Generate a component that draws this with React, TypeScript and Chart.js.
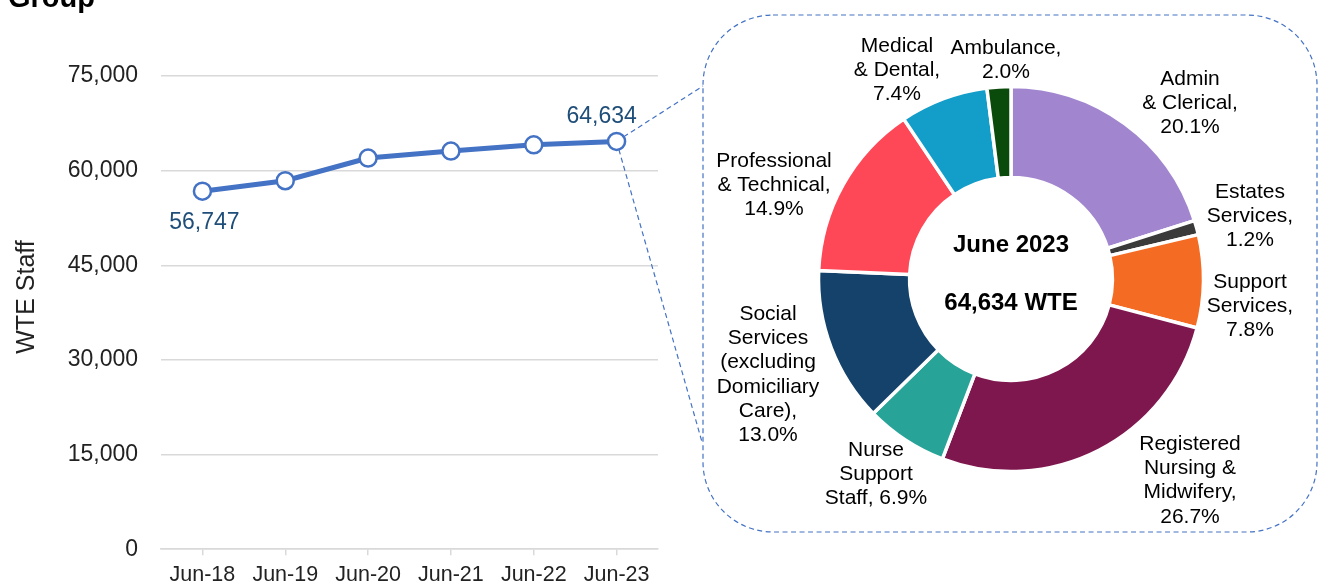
import React, { useEffect, useRef } from 'react';
import { Chart, registerables } from 'chart.js';

Chart.register(...registerables);

// ---------- data ----------
const years = ['Jun-18', 'Jun-19', 'Jun-20', 'Jun-21', 'Jun-22', 'Jun-23'];
const staffWTE = [56747, 58400, 62000, 63100, 64100, 64634];
const yTickValues = [0, 15000, 30000, 45000, 60000, 75000];

const staffGroups = [
  'Admin & Clerical',
  'Estates Services',
  'Support Services',
  'Registered Nursing & Midwifery',
  'Nurse Support Staff',
  'Social Services (excluding Domiciliary Care)',
  'Professional & Technical',
  'Medical & Dental',
  'Ambulance',
];
const groupShares = [20.1, 1.2, 7.8, 26.7, 6.9, 13.0, 14.9, 7.4, 2.0];
const groupLabelLines = [
  ['Admin', '& Clerical,', '{p}'],
  ['Estates', 'Services,', '{p}'],
  ['Support', 'Services,', '{p}'],
  ['Registered', 'Nursing &', 'Midwifery,', '{p}'],
  ['Nurse', 'Support', 'Staff, {p}'],
  ['Social', 'Services', '(excluding', 'Domiciliary', 'Care),', '{p}'],
  ['Professional', '& Technical,', '{p}'],
  ['Medical', '& Dental,', '{p}'],
  ['Ambulance,', '{p}'],
];
const centerTitle = 'June 2023';
const pageTitle = 'Group';
const yAxisTitle = 'WTE Staff';

// ---------- styles / layout ----------
const FONT = '"Liberation Sans", Arial, Helvetica, sans-serif';
const groupColors = [
  '#A186CF', '#3A3A3A', '#F46B24', '#7F174F', '#27A397',
  '#14426A', '#FF4857', '#139DC9', '#0A4A0A',
];
// anchor (page px) of first line centre for each doughnut label
const labelAnchors = [
  [1190, 79], [1250, 192], [1250, 282], [1190, 444], [876, 450],
  [768, 314], [774, 161], [897, 46], [1006, 48],
];
const LABEL_LH = 24.3;
const W = 1325;
const H = 586;
const BOX = { x: 703, y: 15, w: 614, h: 517, r: 70 };
const CONNECT_TOP = [703, 86];
const CONNECT_BOTTOM = [702, 442];
const DONUT_C = [1011, 279];

const fmt = (v: number) => v.toLocaleString('en-GB');

export default function App() {
  const lineRef = useRef<HTMLCanvasElement | null>(null);
  const donutRef = useRef<HTMLCanvasElement | null>(null);

  useEffect(() => {
    const lineDecor = {
      id: 'lineDecor',
      beforeDatasetsDraw(chart: any) {
        const ctx = chart.ctx;
        const meta = chart.getDatasetMeta(0);
        const last = meta.data[meta.data.length - 1];
        ctx.save();
        ctx.strokeStyle = '#4472C4';
        ctx.lineWidth = 1.2;
        ctx.setLineDash([5, 3.5]);
        const { x, y, w, h, r } = BOX;
        ctx.beginPath();
        ctx.moveTo(x + r, y);
        ctx.lineTo(x + w - r, y);
        ctx.arcTo(x + w, y, x + w, y + r, r);
        ctx.lineTo(x + w, y + h - r);
        ctx.arcTo(x + w, y + h, x + w - r, y + h, r);
        ctx.lineTo(x + r, y + h);
        ctx.arcTo(x, y + h, x, y + h - r, r);
        ctx.lineTo(x, y + r);
        ctx.arcTo(x, y, x + r, y, r);
        ctx.closePath();
        ctx.stroke();
        ctx.beginPath();
        ctx.moveTo(last.x, last.y);
        ctx.lineTo(CONNECT_TOP[0], CONNECT_TOP[1]);
        ctx.moveTo(last.x, last.y);
        ctx.lineTo(CONNECT_BOTTOM[0], CONNECT_BOTTOM[1]);
        ctx.stroke();
        ctx.restore();
      },
      afterDraw(chart: any) {
        const ctx = chart.ctx;
        const meta = chart.getDatasetMeta(0);
        const first = meta.data[0];
        const last = meta.data[meta.data.length - 1];
        ctx.save();
        ctx.fillStyle = '#1F4E79';
        ctx.font = `23px ${FONT}`;
        ctx.textAlign = 'center';
        ctx.textBaseline = 'middle';
        ctx.fillText(fmt(staffWTE[0]), first.x + 2, first.y + 31);
        ctx.fillText(fmt(staffWTE[staffWTE.length - 1]), last.x - 15, last.y - 25);
        ctx.fillStyle = '#222';
        ctx.font = `25px ${FONT}`;
        ctx.translate(27, 297);
        ctx.rotate(-Math.PI / 2);
        ctx.fillText(yAxisTitle, 0, 0);
        ctx.restore();
        ctx.save();
        ctx.fillStyle = '#000';
        ctx.font = `bold 29px ${FONT}`;
        ctx.textAlign = 'left';
        ctx.textBaseline = 'alphabetic';
        ctx.fillText(pageTitle, 8, 7);
        ctx.restore();
      },
    };

    const lineChart = new Chart(lineRef.current as HTMLCanvasElement, {
      type: 'line',
      data: {
        labels: years,
        datasets: [
          {
            data: staffWTE,
            borderColor: '#4472C4',
            borderWidth: 5,
            pointRadius: 8.5,
            pointBorderWidth: 2.5,
            pointBackgroundColor: '#FFFFFF',
            pointBorderColor: '#4472C4',
            tension: 0,
          },
        ],
      },
      options: {
        animation: false,
        responsive: false,
        events: [],
        layout: { padding: { left: 0, right: W - 658, top: 76, bottom: 0 } },
        plugins: { legend: { display: false }, tooltip: { enabled: false } },
        scales: {
          x: {
            offset: true,
            grid: {
              display: true,
              drawOnChartArea: false,
              drawTicks: true,
              tickLength: 6,
              color: '#D9D9D9',
              offset: false,
              lineWidth: 1.5,
            },
            border: { display: true, color: '#D9D9D9', width: 1.5 },
            ticks: { color: '#222', font: { family: FONT, size: 21.5 }, padding: 7, maxRotation: 0 },
            afterFit(scale: any) {
              scale.height = 34;
            },
          },
          y: {
            min: 0,
            max: 75000,
            afterBuildTicks(scale: any) {
              scale.ticks = yTickValues.map((v) => ({ value: v }));
            },
            grid: { color: '#D9D9D9', lineWidth: 1.5, drawTicks: false },
            border: { display: false },
            ticks: {
              color: '#222',
              font: { family: FONT, size: 23 },
              padding: 23,
              callback: (v: any) => fmt(Number(v)),
            },
            afterFit(scale: any) {
              scale.width = 161;
            },
          },
        },
      },
      plugins: [lineDecor],
    });

    const donutDecor = {
      id: 'donutDecor',
      afterDraw(chart: any) {
        const ctx = chart.ctx;
        const meta = chart.getDatasetMeta(0);
        const arc = meta.data[0];
        const cx = arc.x;
        const cy = arc.y;
        ctx.save();
        ctx.fillStyle = '#000';
        ctx.textAlign = 'center';
        ctx.textBaseline = 'middle';
        ctx.font = `bold 24px ${FONT}`;
        ctx.fillText(centerTitle, cx, cy - 34);
        ctx.fillText(`${fmt(staffWTE[staffWTE.length - 1])} WTE`, cx, cy + 24);
        ctx.font = `21px ${FONT}`;
        groupLabelLines.forEach((lines, i) => {
          const [ax, ay] = labelAnchors[i];
          lines.forEach((ln, j) => {
            const text = ln.replace('{p}', `${groupShares[i].toFixed(1)}%`);
            ctx.fillText(text, ax, ay + j * LABEL_LH);
          });
        });
        ctx.restore();
      },
    };

    const R = 200;
    const donutChart = new Chart(donutRef.current as HTMLCanvasElement, {
      type: 'doughnut',
      data: {
        labels: staffGroups,
        datasets: [
          {
            data: groupShares,
            backgroundColor: groupColors,
            borderColor: '#FFFFFF',
            borderWidth: 3.5,
            radius: 192.5,
            cutout: 104.5,
          } as any,
        ],
      },
      options: {
        animation: false,
        responsive: false,
        events: [],
        rotation: 0,
        layout: {
          padding: {
            left: DONUT_C[0] - R,
            right: W - DONUT_C[0] - R,
            top: DONUT_C[1] - R,
            bottom: H - DONUT_C[1] - R,
          },
        },
        plugins: { legend: { display: false }, tooltip: { enabled: false } },
      } as any,
      plugins: [donutDecor],
    });

    return () => {
      lineChart.destroy();
      donutChart.destroy();
    };
  }, []);

  return (
    <div style={{ position: 'fixed', left: 0, top: 0, width: W, height: H, background: '#fff' }}>
      <canvas ref={lineRef} width={W} height={H} style={{ position: 'absolute', left: 0, top: 0, width: W, height: H }} />
      <canvas ref={donutRef} width={W} height={H} style={{ position: 'absolute', left: 0, top: 0, width: W, height: H }} />
    </div>
  );
}
